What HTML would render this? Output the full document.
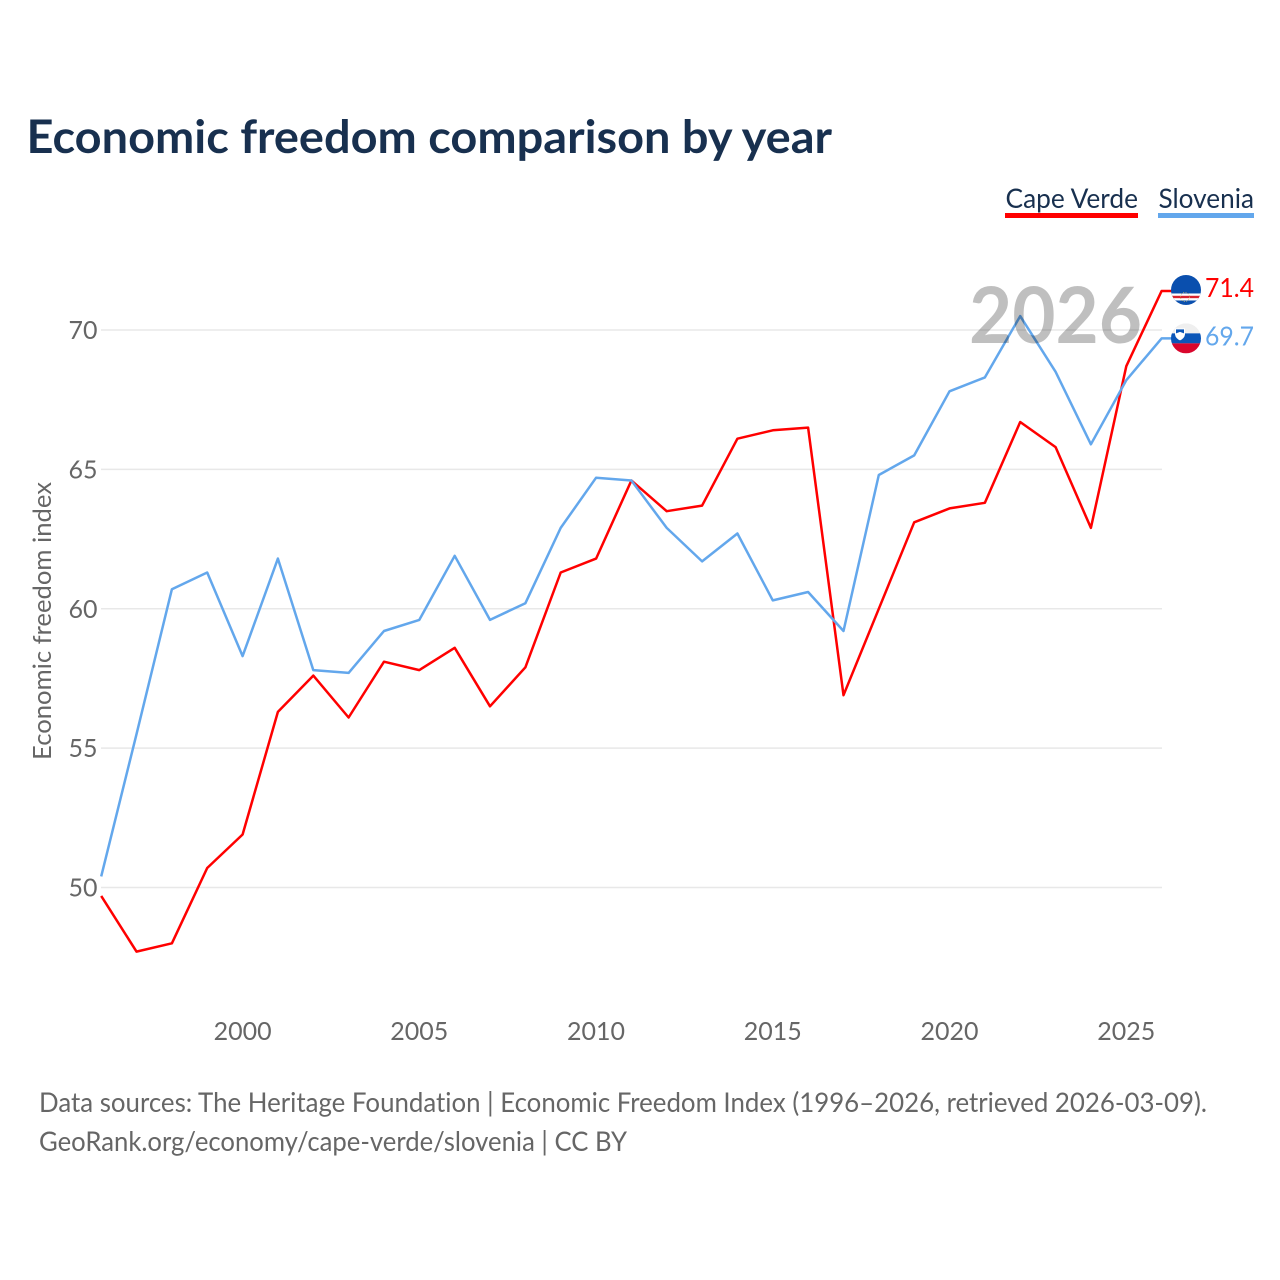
<!DOCTYPE html>
<html>
<head>
<meta charset="utf-8">
<title>Economic freedom comparison by year</title>
<style>
html,body{margin:0;padding:0;background:#fff;width:1280px;height:1280px;overflow:hidden}
svg{display:block}
text{font-family:"Lato","Carlito","Liberation Sans",sans-serif;font-variant-ligatures:none}
</style>
</head>
<body>
<svg id="chart" xmlns="http://www.w3.org/2000/svg" width="1280" height="1280" viewBox="0 0 1280 1280">
  <text x="26.5" y="153" font-size="46" font-weight="700" fill="#18304f" textLength="805.5" lengthAdjust="spacingAndGlyphs">Economic freedom comparison by year</text>

  <g>
    <g>
      <text x="1005.5" y="208" font-size="27" fill="#18304f" textLength="132.5" lengthAdjust="spacingAndGlyphs">Cape Verde</text>
      <rect x="1005" y="213" width="133" height="5" fill="#ff0000"/>
    </g>
    <g>
      <text x="1158.5" y="208" font-size="27" fill="#18304f" textLength="95.5" lengthAdjust="spacingAndGlyphs">Slovenia</text>
      <rect x="1158" y="213" width="96" height="5" fill="#63a7ec"/>
    </g>
  </g>

  <g id="grid"></g>
  <g id="yticks"></g>
  <g id="xticks"></g>
  <text transform="translate(51,621) rotate(-90)" text-anchor="middle" font-size="25" fill="#666" textLength="278" lengthAdjust="spacingAndGlyphs">Economic freedom index</text>

  <g id="series"></g>
  <text x="969" y="343" font-size="78" font-weight="700" fill="#000" fill-opacity="0.25" textLength="173" lengthAdjust="spacingAndGlyphs">2026</text>

  <g id="endmarks"></g>

  <text x="39" y="1112" font-size="27" fill="#666" textLength="1168" lengthAdjust="spacingAndGlyphs">Data sources: The Heritage Foundation | Economic Freedom Index (1996–2026, retrieved 2026-03-09).</text>
  <text x="39" y="1151" font-size="27" fill="#666" textLength="588" lengthAdjust="spacingAndGlyphs">GeoRank.org/economy/cape-verde/slovenia | CC BY</text>
</svg>
<script>
const years = [1996,1997,1998,1999,2000,2001,2002,2003,2004,2005,2006,2007,2008,2009,2010,2011,2012,2013,2014,2015,2016,2017,2018,2019,2020,2021,2022,2023,2024,2025,2026];
const capeVerde = [49.7,47.7,48.0,50.7,51.9,56.3,57.6,56.1,58.1,57.8,58.6,56.5,57.9,61.3,61.8,64.6,63.5,63.7,66.1,66.4,66.5,56.9,60.0,63.1,63.6,63.8,66.7,65.8,62.9,68.7,71.4];
const slovenia = [50.4,55.5,60.7,61.3,58.3,61.8,57.8,57.7,59.2,59.6,61.9,59.6,60.2,62.9,64.7,64.6,62.9,61.7,62.7,60.3,60.6,59.2,64.8,65.5,67.8,68.3,70.5,68.5,65.9,68.2,69.7];
const yTickValues = [50,55,60,65,70];
const xTickValues = [2000,2005,2010,2015,2020,2025];

const NS = 'http://www.w3.org/2000/svg';
const xScale = function (year) { return 101.2 + (year - 1996) * (1161.6 - 101.2) / 30; };
const yScale = function (value) { return 887.5 - (value - 50) * (887.5 - 330) / 20; };

function make(tag, attrs, parent, content) {
  const el = document.createElementNS(NS, tag);
  Object.keys(attrs).forEach(function (k) { el.setAttribute(k, attrs[k]); });
  if (content !== undefined) el.textContent = content;
  parent.appendChild(el);
  return el;
}

const gridGroup = document.getElementById('grid');
const yGroup = document.getElementById('yticks');
yTickValues.forEach(function (v) {
  const line = make('line', {x1: 101, x2: 1162, y1: yScale(v), y2: yScale(v), stroke: '#e8e8e8', 'stroke-width': 1.5}, gridGroup);
  
  
  const label = make('text', {x: 97.5, y: yScale(v) + 9, 'text-anchor': 'end', 'font-size': 25, fill: '#666'}, yGroup, String(v));
  
  
});

const xGroup = document.getElementById('xticks');
xTickValues.forEach(function (y) {
  const label = make('text', {x: xScale(y), y: 1040, 'text-anchor': 'middle', 'font-size': 25, fill: '#666'}, xGroup, String(y));
  
  
});

function pathFor(values) {
  let d = values.map(function (v, i) {
    return (i ? 'L' : 'M') + xScale(years[i]).toFixed(1) + ' ' + yScale(v).toFixed(1);
  }).join(' ');
  const last = values[values.length - 1];
  d += ' L' + (xScale(years[years.length - 1]) + 10).toFixed(1) + ' ' + yScale(last).toFixed(1);
  return d;
}

const seriesGroup = document.getElementById('series');
const capeLine = make('path', {d: pathFor(capeVerde), fill: 'none', stroke: '#ff0000', 'stroke-width': 2.5, 'stroke-linejoin': 'round'}, seriesGroup);


const sloLine = make('path', {d: pathFor(slovenia), fill: 'none', stroke: '#63a7ec', 'stroke-width': 2.5, 'stroke-linejoin': 'round'}, seriesGroup);



const endGroup = document.getElementById('endmarks');
const cx = 1186;

// Cape Verde flag marker and value
const cvY = yScale(capeVerde[capeVerde.length - 1]) - 1;
const cvDefs = make('clipPath', {id: 'clip-cv'}, endGroup);
make('circle', {cx: cx, cy: cvY, r: 15}, cvDefs);
const cvFlag = make('g', {'clip-path': 'url(#clip-cv)'}, endGroup);


make('rect', {x: cx - 15, y: cvY - 15, width: 30, height: 30, fill: '#0a4fae'}, cvFlag);
make('rect', {x: cx - 15, y: cvY + 3.5, width: 30, height: 7, fill: '#ffffff'}, cvFlag);
make('rect', {x: cx - 15, y: cvY + 5.8, width: 30, height: 2.4, fill: '#d8232f'}, cvFlag);
make('circle', {cx: cx - 1, cy: cvY + 7, r: 4.5, fill: 'none', stroke: '#c9b96a', 'stroke-width': 0.8, 'stroke-dasharray': '1 1.4'}, cvFlag);
const cvValue = make('text', {x: 1205, y: cvY + 7, 'font-size': 26, fill: '#ff0000', textLength: 49, lengthAdjust: 'spacingAndGlyphs'}, endGroup, capeVerde[capeVerde.length - 1].toFixed(1));



// Slovenia flag marker and value
const siY = yScale(slovenia[slovenia.length - 1]);
const siDefs = make('clipPath', {id: 'clip-si'}, endGroup);
make('circle', {cx: cx, cy: siY, r: 15}, siDefs);
const siFlag = make('g', {'clip-path': 'url(#clip-si)'}, endGroup);


make('rect', {x: cx - 15, y: siY - 15, width: 30, height: 10, fill: '#efefef'}, siFlag);
make('rect', {x: cx - 15, y: siY - 5, width: 30, height: 10, fill: '#0b56b8'}, siFlag);
make('rect', {x: cx - 15, y: siY + 5, width: 30, height: 10, fill: '#d9062d'}, siFlag);
make('path', {d: 'M' + (cx - 11) + ' ' + (siY - 10) + 'h10v6q-.5 4-5 6q-4.500-2-5-6z', fill: '#ffffff'}, siFlag);
make('path', {d: 'M' + (cx - 10) + ' ' + (siY - 9) + 'h8v4l-4 -1.500l-4 1.500z', fill: '#0b56b8'}, siFlag);
const siValue = make('text', {x: 1205, y: siY + 7, 'font-size': 26, fill: '#63a7ec', textLength: 49, lengthAdjust: 'spacingAndGlyphs'}, endGroup, slovenia[slovenia.length - 1].toFixed(1));


</script>
</body>
</html>
